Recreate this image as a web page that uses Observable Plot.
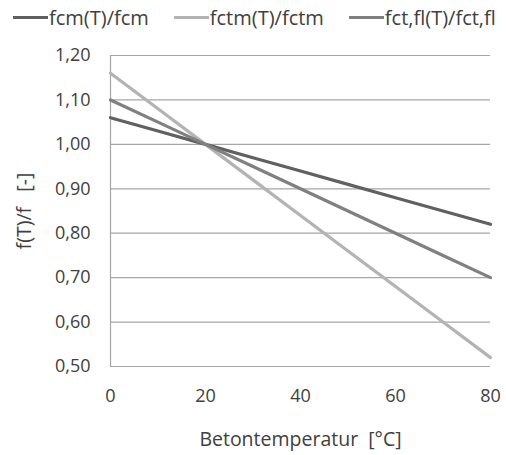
<!DOCTYPE html>
<html>
<head>
<meta charset="utf-8">
<script src="https://cdn.jsdelivr.net/npm/d3@7"></script>
<script src="https://cdn.jsdelivr.net/npm/@observablehq/plot@0.6"></script>
<style>
  html, body { margin: 0; padding: 0; background: #fff; }
  #legend { height: 35px; display: flex; align-items: center; padding-left: 13px; gap: 25px;
    font-family: "Open Sans", sans-serif; font-size: 20px; color: #404040; box-sizing: border-box; }
  .item { display: flex; align-items: center; }
  .sw { width: 35px; height: 3px; margin-right: 1px; }
  svg { display: block; }
  svg [aria-label="x-axis label"], svg [aria-label="y-axis label"] { font-size: 19.5px; }
</style>
</head>
<body>
<div id="legend"></div>
<div id="chart"></div>
<script>
const temps = [0, 10, 20, 30, 40, 50, 60, 70, 80];
const fcm   = [1.06, 1.03, 1.00, 0.97, 0.94, 0.91, 0.88, 0.85, 0.82];
const fctm  = [1.16, 1.08, 1.00, 0.92, 0.84, 0.76, 0.68, 0.60, 0.52];
const fctfl = [1.10, 1.05, 1.00, 0.95, 0.90, 0.85, 0.80, 0.75, 0.70];
const seriesNames = ["fcm(T)/fcm", "fctm(T)/fctm", "fct,fl(T)/fct,fl"];
const seriesColors = ["#606060", "#b3b3b3", "#808080"];
const xTicks = [0, 20, 40, 60, 80];
const yTicks = [0.5, 0.6, 0.7, 0.8, 0.9, 1.0, 1.1, 1.2];

const seriesValues = [fcm, fctm, fctfl];
const data = [];
seriesValues.forEach((vals, i) => vals.forEach((v, j) => data.push({T: temps[j], v, s: seriesNames[i]})));

const legend = document.getElementById("legend");
seriesNames.forEach((n, i) => {
  const it = document.createElement("div");
  it.className = "item";
  it.innerHTML = `<span class="sw" style="background:${seriesColors[i]}"></span><span>${n}</span>`;
  legend.appendChild(it);
});

const fmt = d => d.toFixed(2).replace(".", ",");

const plot = Plot.plot({
  width: 506,
  height: 420,
  marginTop: 20,
  marginLeft: 110,
  marginRight: 16,
  marginBottom: 89,
  style: {fontFamily: "Open Sans, sans-serif", fontSize: "18px", color: "#404040", background: "#fff"},
  x: {domain: [0, 80], ticks: xTicks, tickSize: 0, tickPadding: 23, label: "Betontemperatur  [°C]", labelAnchor: "center", labelArrow: "none", labelOffset: 79},
  y: {domain: [0.5, 1.2], ticks: yTicks, tickSize: 0, tickPadding: 20, tickFormat: fmt, label: "f(T)/f   [-]", labelAnchor: "center", labelArrow: "none", labelOffset: 93},
  color: {domain: seriesNames, range: seriesColors},
  marks: [
    Plot.ruleY(yTicks, {stroke: "#a6a6a6", strokeWidth: 1.2}),
    Plot.ruleX([0], {stroke: "#a6a6a6", strokeWidth: 1.2}),
    Plot.line(data, {x: "T", y: "v", z: "s", stroke: "s", strokeWidth: 3.2})
  ]
});
document.getElementById("chart").appendChild(plot);
</script>
</body>
</html>
